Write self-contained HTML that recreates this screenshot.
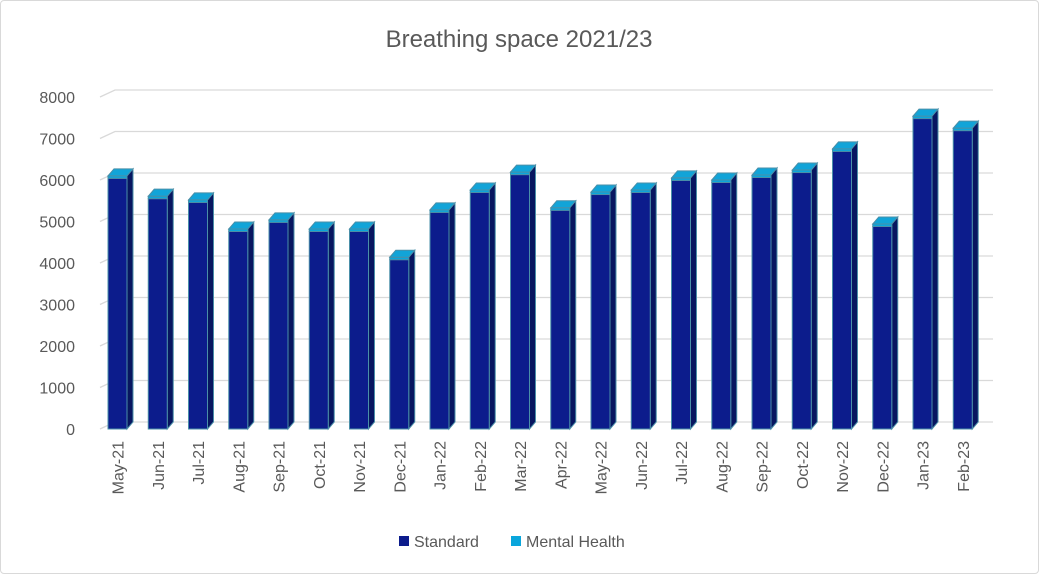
<!DOCTYPE html>
<html><head><meta charset="utf-8"><style>
body{margin:0;background:#fff;font-family:"Liberation Sans",sans-serif}
#wrap{position:relative;width:1039px;height:574px;box-sizing:border-box;border:1px solid #d9d9d9;border-radius:4px}
</style></head><body>
<div id="wrap">
<svg id="chart" width="1037" height="572"></svg>
</div>
<script>
const categories=["May-21","Jun-21","Jul-21","Aug-21","Sep-21","Oct-21","Nov-21","Dec-21","Jan-22","Feb-22","Mar-22","Apr-22","May-22","Jun-22","Jul-22","Aug-22","Sep-22","Oct-22","Nov-22","Dec-22","Jan-23","Feb-23"];
const standard=[6040,5550,5460,4760,4980,4760,4760,4080,5220,5700,6130,5270,5650,5700,5990,5940,6060,6180,6690,4880,7480,7190];
const mentalHealth=[60,60,60,60,60,60,60,60,60,60,60,60,60,60,60,60,60,60,60,60,60,60];
const ticks=[0,1000,2000,3000,4000,5000,6000,7000,8000];
const NS="http://www.w3.org/2000/svg";
const svg=document.getElementById('chart');
function mk(t,a,p){const e=document.createElementNS(NS,t);for(const k in a)e.setAttribute(k,a[k]);(p||svg).appendChild(e);return e;}
const y0=428,k=41.5/1000,dx=6,dy=7;
function y(v){return y0-v*k;}
function x(i){return 107+i*40.25;}
let t=mk('text',{x:518,y:46,'text-anchor':'middle','font-size':24,fill:'#595959'});t.textContent='Breathing space 2021/23';


ticks.forEach(v=>{
 const gy=y(v);
 const l=mk('polyline',{points:`${99},${gy} ${114},${gy-dy} ${992},${gy-dy}`,fill:'none',stroke:'#d9d9d9','stroke-width':1.3});
 
 
 const tx=mk('text',{x:74,y:gy+6,'text-anchor':'end','font-size':16,fill:'#595959'});tx.textContent=v;
 
 
});
categories.forEach((c,i)=>{
 const g=mk('g',{});
 
 
 const x0=x(i),w=19,ys=y(standard[i]),ym=y(standard[i]+mentalHealth[i]);
 mk('polygon',{points:`${x0+w},${y0} ${x0+w+dx},${y0-dy} ${x0+w+dx},${ym-dy} ${x0+w},${ym}`,fill:'#081660',stroke:'#4a8fa8','stroke-width':1},g);
 mk('rect',{x:x0,y:ys,width:w,height:y0-ys,fill:'#0c1c8c',stroke:'#4a8fa8','stroke-width':1},g);
 mk('rect',{x:x0,y:ym,width:w,height:ys-ym,fill:'#0aa6dc',stroke:'#4a8fa8','stroke-width':1},g);
 mk('polygon',{points:`${x0},${ym} ${x0+dx},${ym-dy} ${x0+w+dx},${ym-dy} ${x0+w},${ym}`,fill:'#12a4d8',stroke:'#4a8fa8','stroke-width':1},g);
 const lx=x0+w/2+6;
 const tl=mk('text',{x:lx,y:440,'text-anchor':'end','font-size':16,fill:'#595959',transform:`rotate(-90 ${lx} 440)`});tl.textContent=c;
 
 
});
[["Standard","#0c1c8c",398],["Mental Health","#0aa6dc",510]].forEach(([n,col,lx])=>{
 const g=mk('g',{});
 
 
 mk('rect',{x:lx,y:535,width:10,height:10,fill:col},g);
 const tt=mk('text',{x:lx+15,y:546,'font-size':16,fill:'#595959'},g);tt.textContent=n;
});
</script>
</body></html>
